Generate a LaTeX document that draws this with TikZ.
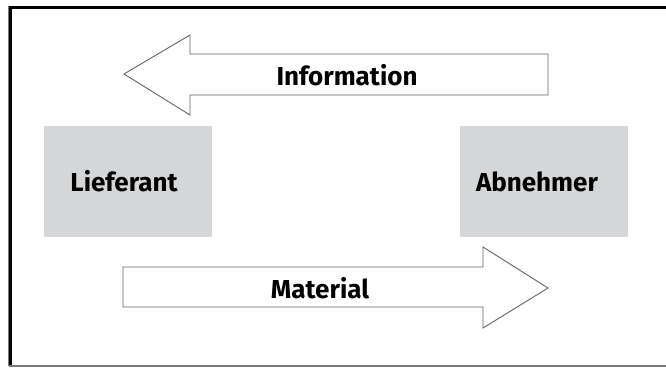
\documentclass[tikz,border=0pt]{standalone}
\usepackage{fontspec}
\setmainfont{Fira Sans}
\definecolor{boxgray}{RGB}{213,214,216}
\definecolor{linegray}{RGB}{100,100,100}
\definecolor{framegray}{RGB}{120,120,120}
\begin{document}
\begin{tikzpicture}[x=1pt,y=-1pt,
  party/.style={fill=boxgray,draw=none,minimum width=168pt,minimum height=111pt,inner sep=0pt},
  flowarrow/.style={draw=linegray,line width=0.9pt,fill=white,line join=miter},
  label/.style={font=\bfseries\fontsize{26}{30}\selectfont,inner sep=0pt}]
\useasboundingbox (0,0) rectangle (666,367);
\fill[white] (0,0) rectangle (666,367);
% frame
\draw[framegray,line width=1.5pt] (8.5,366) -- (666,366);
\draw[framegray,line width=0.8pt] (8,6) -- (8,366);
\draw[black,line width=3pt] (9,7.5) -- (666,7.5);
\draw[black,line width=3pt] (10.5,6) -- (10.5,365);
% boxes
\node[party] (lief) at (128,181.5) {};
\node[party] (abn) at (544,181.5) {};
\node[label] (liefT) at ([xshift=-4pt]lief.center) {Lieferant};
\node[label] (abnT) at ([xshift=-7pt]abn.center) {Abnehmer};
% information arrow (to the left)
\draw[flowarrow] (124,74) -- (190,35) -- (190,54) -- (548,54) -- (548,95) -- (190,95) -- (190,115) -- cycle;
\node[label] (info) at (347,75.5) {Information};
% material arrow (to the right)
\draw[flowarrow] (123,267) -- (483,267) -- (483,247) -- (548,288) -- (483,328) -- (483,307) -- (123,307) -- cycle;
\node[label] (mat) at (320,288) {Material};
\end{tikzpicture}
\end{document}
